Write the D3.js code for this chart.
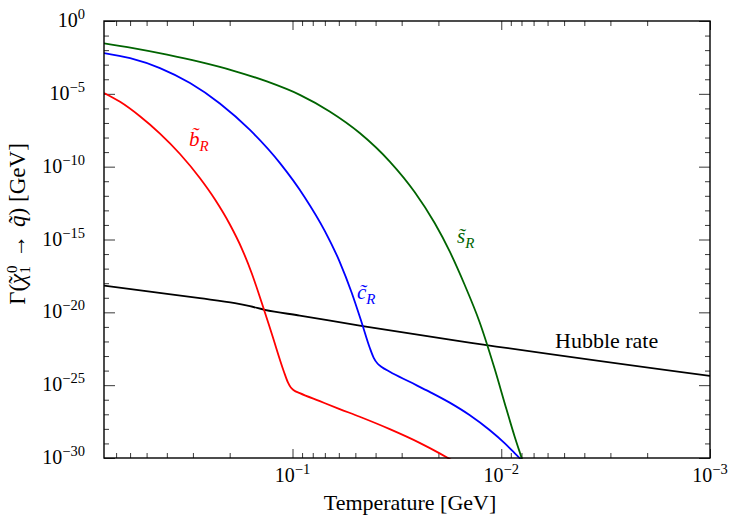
<!DOCTYPE html>
<head>
  <meta charset="utf-8">
  <title>Decay rate vs temperature</title>
  <script src="https://d3js.org/d3.v7.min.js"></script>
  <style>
    body { margin: 0; background: #fff; }
    svg, text { font-family: "Liberation Serif", "DejaVu Serif", serif; }
    .tick line { stroke: #222; stroke-width: 0.9; }
    .curve { fill: none; stroke-width: 1.8; stroke-linejoin: round; }
  </style>
</head>
<body>
  <svg width="744" height="522"></svg>
  <script>
    // values, as log10(T / GeV) and log10(rate / GeV)
    const hubbleLogT    = [-0.097, -0.317, -0.556, -0.724, -0.796, -0.867, -1.035, -1.336, -1.800, -3.0];
    const hubbleLogRate = [-18.16, -18.58, -19.03, -19.37, -19.58, -19.83, -20.22, -20.94, -21.97, -24.37];

    const bLogT    = [-0.097, -0.174, -0.269, -0.365, -0.461, -0.556, -0.628, -0.700, -0.757, -0.805, -0.853, -0.901,
                      -0.958, -0.978, -0.992, -1.006, -1.035, -1.131, -1.226, -1.322, -1.466, -1.609, -1.705, -1.762];
    const bLogRate = [-4.94, -5.55, -6.54, -7.73, -9.13, -10.78, -12.24, -13.97, -15.62, -17.33, -19.36, -21.49,
                      -24.04, -24.81, -25.16, -25.35, -25.55, -26.10, -26.64, -27.17, -28.02, -28.96, -29.68, -30.14];

    const cLogT    = [-0.097, -0.222, -0.365, -0.509, -0.652, -0.796, -0.939, -1.059, -1.155, -1.226, -1.284, -1.332,
                      -1.370, -1.389, -1.408, -1.427, -1.466, -1.561, -1.657, -1.753, -1.848, -1.944, -2.016, -2.064,
                      -2.097];
    const cLogRate = [-2.20, -2.55, -3.23, -4.26, -5.66, -7.48, -9.74, -12.11, -14.42, -16.53, -18.67, -20.73,
                      -22.43, -23.12, -23.53, -23.75, -24.08, -24.77, -25.46, -26.20, -27.05, -28.08, -28.98, -29.66,
                      -30.14];

    const sLogT    = [-0.097, -0.236, -0.399, -0.556, -0.714, -0.877, -1.035, -1.178, -1.322, -1.466, -1.585, -1.681,
                      -1.753, -1.824, -1.896, -1.968, -2.025, -2.064, -2.097, -2.107];
    const sLogRate = [-1.54, -1.86, -2.31, -2.81, -3.40, -4.15, -5.07, -6.21, -7.69, -9.65, -11.74, -13.87,
                      -15.82, -18.09, -20.66, -23.86, -26.66, -28.52, -29.97, -30.41];

    const xMajor = [1e-1, 1e-2, 1e-3];
    const yMajorExp = [0, -5, -10, -15, -20, -25, -30];

    const svg    = d3.select("svg"),
          margin = {top: 21, right: 34, bottom: 64, left: 104},
          width  = +svg.attr("width")  - margin.left - margin.right,
          height = +svg.attr("height") - margin.top  - margin.bottom,
          g      = svg.append("g").attr("transform", `translate(${margin.left},${margin.top})`);

    const x = d3.scaleLog().domain([0.8, 1e-3]).range([0, width]);
    const y = d3.scaleLog().domain([1e-30, 1]).range([height, 0]);

    // minor ticks
    const xMinor = [];
    [-1, -2, -3].forEach(e => {
      for (let k = 2; k <= 9; k++) {
        const v = k * Math.pow(10, e);
        if (v < 0.8 && v > 1e-3) xMinor.push(v);
      }
    });
    const yMinor = d3.range(-29, 0).filter(e => e % 5 !== 0).map(e => Math.pow(10, e));
    const yMajor = yMajorExp.map(e => Math.pow(10, e));

    const addAxis = (axis, tr) => {
      const a = g.append("g").attr("transform", tr).call(axis);
      a.select(".domain").remove();
      a.selectAll("text").remove();
    };
    // bottom / top
    addAxis(d3.axisBottom(x).tickValues(xMajor).tickSize(-9), `translate(0,${height})`);
    addAxis(d3.axisBottom(x).tickValues(xMinor).tickSize(-5), `translate(0,${height})`);
    addAxis(d3.axisTop(x).tickValues(xMajor).tickSize(-9), "translate(0,0)");
    addAxis(d3.axisTop(x).tickValues(xMinor).tickSize(-5), "translate(0,0)");
    // left / right
    addAxis(d3.axisLeft(y).tickValues(yMajor).tickSize(-11), "translate(0,0)");
    addAxis(d3.axisLeft(y).tickValues(yMinor).tickSize(-5), "translate(0,0)");
    addAxis(d3.axisRight(y).tickValues(yMajor).tickSize(-11), `translate(${width},0)`);
    addAxis(d3.axisRight(y).tickValues(yMinor).tickSize(-5), `translate(${width},0)`);

    // tick labels with exponents
    xMajor.forEach(v => {
      const t = g.append("text")
        .attr("x", x(v)).attr("y", height + 24)
        .attr("text-anchor", "middle")
        .style("font-size", "20px");
      t.append("tspan").text("10");
      t.append("tspan").attr("dy", -8).style("font-size", "14.5px")
        .text("\u2212" + Math.round(-Math.log10(v)));
    });
    yMajorExp.forEach(e => {
      const t = g.append("text")
        .attr("x", -19).attr("y", y(Math.pow(10, e)) + 6)
        .attr("text-anchor", "end")
        .style("font-size", "20px");
      t.append("tspan").text("10");
      t.append("tspan").attr("dy", -8).style("font-size", "14.5px")
        .text(e === 0 ? "0" : "\u2212" + (-e));
    });

    // curves
    svg.append("clipPath").attr("id", "plot-clip")
      .append("rect").attr("width", width).attr("height", height + 1);

    const line = d3.line()
      .x(d => x(Math.pow(10, d[0])))
      .y(d => y(Math.pow(10, d[1])))
      .curve(d3.curveMonotoneX);

    const series = [
      {t: hubbleLogT, r: hubbleLogRate, color: "#000000"},
      {t: bLogT, r: bLogRate, color: "#ff0000"},
      {t: cLogT, r: cLogRate, color: "#0000ff"},
      {t: sLogT, r: sLogRate, color: "#006400"}
    ];
    const plot = g.append("g").attr("clip-path", "url(#plot-clip)");
    series.forEach(s => {
      plot.append("path")
        .attr("class", "curve")
        .attr("stroke", s.color)
        .attr("d", line(d3.zip(s.t, s.r)));
    });

    // frame
    g.append("rect").attr("width", width).attr("height", height)
      .attr("fill", "none").attr("stroke", "#000").attr("stroke-width", 1.4);

    // curve labels
    const curveLabel = (px, py, base, sub, color) => {
      const t = svg.append("text").attr("x", px).attr("y", py)
        .attr("fill", color).style("font-size", "21px").style("font-style", "italic");
      t.append("tspan").text(base);
      t.append("tspan").attr("dy", 5).style("font-size", "15px").text(sub);
    };
    curveLabel(189, 146, "b\u0303", "R", "#ff0000");
    curveLabel(357, 299, "c\u0303", "R", "#0000ff");
    curveLabel(457, 243, "s\u0303", "R", "#006400");

    svg.append("text").attr("x", 555).attr("y", 348)
      .style("font-size", "22px").text("Hubble rate");

    // axis titles
    svg.append("text")
      .attr("x", margin.left + width / 2 + 3).attr("y", 510)
      .attr("text-anchor", "middle")
      .style("font-size", "22px")
      .text("Temperature [GeV]");

    const yl = svg.append("text")
      .attr("transform", "translate(25,224) rotate(-90)")
      .attr("text-anchor", "middle")
      .style("font-size", "23px");
    yl.append("tspan").text("\u0393(");
    yl.append("tspan").style("font-style", "italic").text("\u03c7");
    yl.append("tspan").attr("dx", -10).text("\u02dc");
    yl.append("tspan").attr("dx", 3).attr("dy", -8).style("font-size", "15px").text("0");
    yl.append("tspan").attr("dx", -8).attr("dy", 13).style("font-size", "15px").text("1");
    yl.append("tspan").attr("dy", -5).attr("dx", 8).text("\u2192");
    yl.append("tspan").attr("dx", 8).style("font-style", "italic").text("q\u0303");
    yl.append("tspan").text(")");
    yl.append("tspan").attr("dx", 6).text("[GeV]");
  </script>
</body>
